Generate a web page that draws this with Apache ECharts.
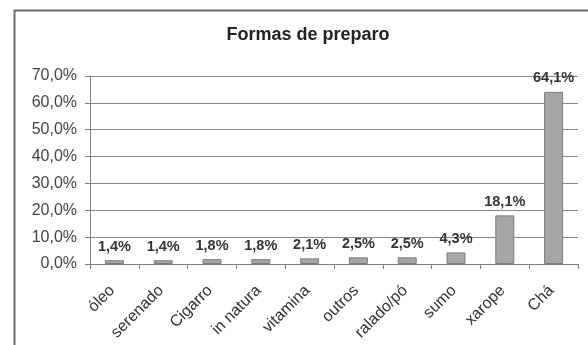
<!DOCTYPE html>
<html>
<head>
<meta charset="utf-8">
<script src="https://cdn.jsdelivr.net/npm/echarts@6/dist/echarts.min.js"></script>
<style>
html,body{margin:0;padding:0;background:#fff;}
#c{width:588px;height:345px;}
</style>
</head>
<body>
<div id="c"></div>
<script>
var title = 'Formas de preparo';
var categories = ['óleo','serenado','Cigarro','in natura','vitamina','outros','ralado/pó','sumo','xarope','Chá'];
var values = [1.4,1.4,1.8,1.8,2.1,2.5,2.5,4.3,18.1,64.1];
var yMin = 0, yMax = 70, yStep = 10;

function pct(v){ return v.toFixed(1).replace('.', ',') + '%'; }

var chart = echarts.init(document.getElementById('c'), null, {renderer:'canvas'});
chart.setOption({
  animation:false,
  backgroundColor:'#fff',
  title:{
    text:title, left:303, top:21, textAlign:'center',
    textStyle:{fontFamily:'Liberation Sans, Arial', fontSize:18, fontWeight:'bold', color:'#222'}
  },
  graphic:[{
    type:'rect', left:12, top:8, z:-1,
    shape:{x:0,y:0,width:620,height:400},
    style:{fill:'none', stroke:'#6a6a6a', lineWidth:2}
  }],
  grid:{left:90, right:10, top:76, bottom:81, containLabel:false},
  xAxis:{
    type:'category', data:categories,
    axisLine:{lineStyle:{color:'#808080', width:1}},
    axisTick:{show:true, length:5, lineStyle:{color:'#808080'}},
    axisLabel:{rotate:45, margin:22, interval:0, padding:[0,3,0,0], fontFamily:'Liberation Sans, Arial', fontSize:16, color:'#333'}
  },
  yAxis:{
    type:'value', min:yMin, max:yMax, interval:yStep,
    axisLine:{show:true, lineStyle:{color:'#808080', width:1}},
    axisTick:{show:true, length:5, lineStyle:{color:'#808080'}},
    splitLine:{lineStyle:{color:'#8a8a8a', width:1}},
    axisLabel:{formatter:pct, margin:13, fontFamily:'Liberation Sans, Arial', fontSize:16, color:'#444'}
  },
  series:[{
    type:'bar', data:values, barWidth:19,
    itemStyle:{color:'#a6a6a6', borderColor:'#7c7c7c', borderWidth:1},
    label:{show:true, position:'top', distance:6, formatter:function(p){return pct(p.value);},
      fontFamily:'Liberation Sans, Arial', fontSize:14.5, fontWeight:'bold', color:'#333'}
  }]
});
</script>
</body>
</html>
